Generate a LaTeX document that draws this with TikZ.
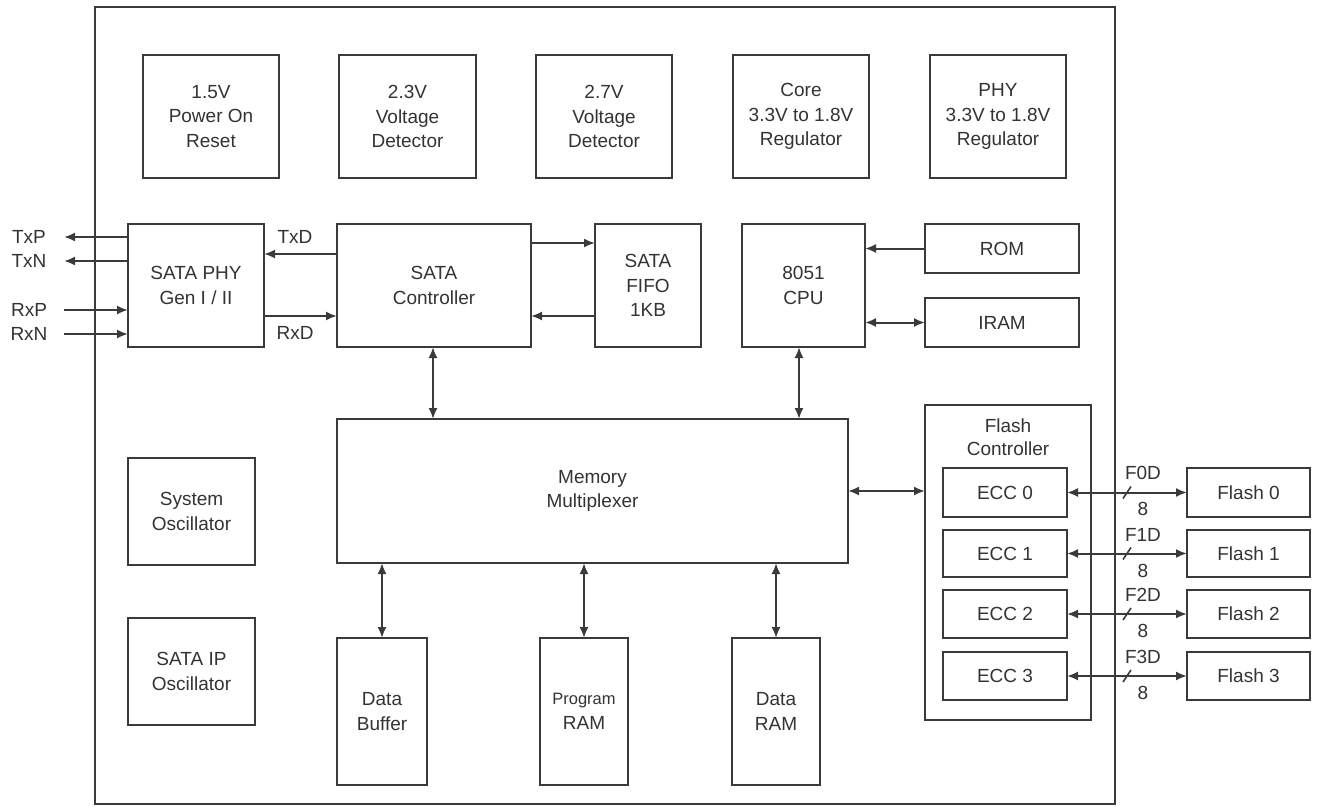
\documentclass[tikz,border=0pt]{standalone}
\usepackage{fontspec}
\setmainfont{Liberation Sans}
\usetikzlibrary{arrows.meta,calc}
\definecolor{ln}{HTML}{3A3A3A}
\definecolor{tx}{HTML}{333333}
\newcommand{\mybox}[6]{\node[box, minimum width={(#4-#2)*1pt}, minimum height={(#5-#3)*1pt}] (#1) at ({(#2+#4)/2},{(#3+#5)/2}) {#6};}
\begin{document}
\begin{tikzpicture}[x=1pt,y=-1pt,
  box/.style={draw=ln, line width=2pt, inner sep=0pt, outer sep=0pt, align=center, text=tx, font=\fontsize{19}{24.5}\selectfont},
  lbl/.style={text=tx, font=\fontsize{19}{22}\selectfont, inner sep=0pt},
  arr/.style={draw=ln, line width=2pt, -{Latex[length=11pt,width=9pt]}},
  darr/.style={draw=ln, line width=2pt, {Latex[length=11pt,width=9pt]}-{Latex[length=11pt,width=9pt]}},
  slash/.style={draw=ln, line width=1.6pt}]
\useasboundingbox (0,0) rectangle (1319,806);
\fill[white] (0,0) rectangle (1319,806);
% outer chip
\mybox{chip}{95}{7}{1115}{804}{}
% top row
\mybox{por}{143}{55}{279}{178}{1.5V\\Power On\\Reset}
\mybox{vd23}{339}{55}{476}{178}{2.3V\\Voltage\\Detector}
\mybox{vd27}{536}{55}{672}{178}{2.7V\\Voltage\\Detector}
\mybox{core}{733}{55}{869}{178}{Core\\3.3V to 1.8V\\Regulator}
\mybox{phyreg}{930}{55}{1066}{178}{PHY\\3.3V to 1.8V\\Regulator}
% second row
\mybox{phy}{128}{224}{264}{347}{SATA PHY\\Gen I / II}
\mybox{ctrl}{337}{224}{531}{347}{SATA\\Controller}
\mybox{fifo}{595}{224}{701}{347}{SATA\\FIFO\\1KB}
\mybox{cpu}{742}{224}{865}{347}{8051\\CPU}
\mybox{rom}{925}{224}{1079}{273}{ROM}
\mybox{iram}{925}{298}{1079}{347}{IRAM}
% middle
\mybox{mux}{337}{419}{848}{563}{Memory\\Multiplexer}
\mybox{sysosc}{128}{458}{255}{565}{System\\Oscillator}
\mybox{iposc}{128}{618}{255}{725}{SATA IP\\Oscillator}
% bottom
\mybox{dbuf}{337}{638}{427}{785}{Data\\Buffer}
\mybox{pram}{540}{638}{628}{785}{{\fontsize{16.5}{23}\selectfont Program}\\RAM}
\mybox{dram}{732}{638}{820}{785}{Data\\RAM}
% flash controller
\mybox{fc}{925}{405}{1091}{720}{}
\node[lbl, align=center, font=\fontsize{19}{23}\selectfont] (fct) at (1008,437) {Flash\\Controller};
\mybox{ecc0}{943}{468}{1067}{517}{ECC 0}
\mybox{ecc1}{943}{530}{1067}{577}{ECC 1}
\mybox{ecc2}{943}{590}{1067}{638}{ECC 2}
\mybox{ecc3}{943}{652}{1067}{700}{ECC 3}
\mybox{fl0}{1187}{468}{1310}{517}{Flash 0}
\mybox{fl1}{1187}{530}{1310}{577}{Flash 1}
\mybox{fl2}{1187}{590}{1310}{638}{Flash 2}
\mybox{fl3}{1187}{652}{1310}{700}{Flash 3}
% external pins
\coordinate (txp) at (64,237);
\coordinate (txn) at (64,261);
\coordinate (rxp) at (64,310);
\coordinate (rxn) at (64,334);
\node[lbl, anchor=center] (ltxp) at (29,237) {TxP};
\node[lbl, anchor=center] (ltxn) at (29,261) {TxN};
\node[lbl, anchor=center] (lrxp) at (29,310) {RxP};
\node[lbl, anchor=center] (lrxn) at (29,334) {RxN};
\draw[arr] (phy.west |- txp) -- (txp);
\draw[arr] (phy.west |- txn) -- (txn);
\draw[arr] (rxp) -- (phy.west |- rxp);
\draw[arr] (rxn) -- (phy.west |- rxn);
% PHY <-> controller
\draw[arr] (ctrl.west |- 0,254) -- (phy.east |- 0,254);
\draw[arr] (phy.east |- 0,316) -- (ctrl.west |- 0,316);
\node[lbl] (ltxd) at (295,237) {TxD};
\node[lbl] (lrxd) at (295,333) {RxD};
% controller <-> fifo
\draw[arr] (ctrl.east |- 0,243) -- (fifo.west |- 0,243);
\draw[arr] (fifo.west |- 0,316) -- (ctrl.east |- 0,316);
% rom, iram
\draw[arr] (rom.west) -- (cpu.east |- rom.west);
\draw[darr] (cpu.east |- iram.west) -- (iram.west);
% to mux
\draw[darr] (ctrl.south -| 433,0) -- (mux.north -| 433,0);
\draw[darr] (cpu.south -| 799,0) -- (mux.north -| 799,0);
\draw[darr] (mux.south -| dbuf.north) -- (dbuf.north);
\draw[darr] (mux.south -| pram.north) -- (pram.north);
\draw[darr] (mux.south -| dram.north) -- (dram.north);
\draw[darr] (mux.east |- 0,491) -- (fc.west |- 0,491);
% ECC <-> flash
\foreach \i in {0,1,2,3}{
  \draw[darr] (ecc\i.east) -- (fl\i.west);
  \draw[slash] ($(ecc\i.east)!0.5!(fl\i.west)+(-4,6)$) -- ($(ecc\i.east)!0.5!(fl\i.west)+(4,-6)$);
}
\node[lbl] (f0d) at (1143,473) {F0D};
\node[lbl] (f1d) at (1143,535) {F1D};
\node[lbl] (f2d) at (1143,595) {F2D};
\node[lbl] (f3d) at (1143,657) {F3D};
\node[lbl] (n0) at (1143,509) {8};
\node[lbl] (n1) at (1143,571) {8};
\node[lbl] (n2) at (1143,631) {8};
\node[lbl] (n3) at (1143,693) {8};
\end{tikzpicture}
\end{document}
